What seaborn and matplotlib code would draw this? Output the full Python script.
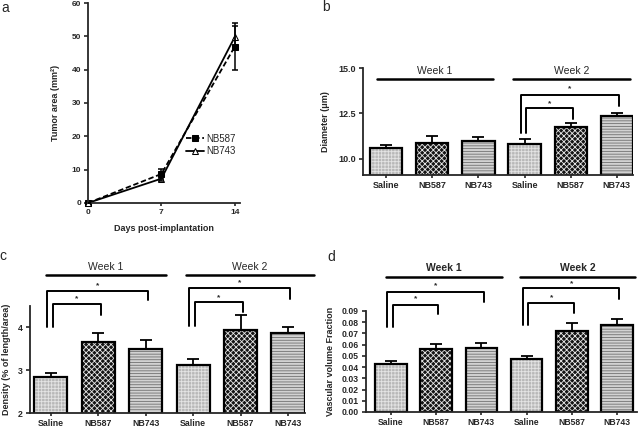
import numpy as np
import pandas as pd
import matplotlib
matplotlib.use("Agg")
import matplotlib.pyplot as plt
import seaborn as sns
from matplotlib.ticker import FormatStrFormatter

# panel a: tumor area vs days
days = [0, 7, 14]
nb587_area = [0.0, 8.7, 46.9]
nb587_sem = [0.0, 1.5, 7.1]
nb743_area = [0.0, 7.3, 49.8]
nb743_sem = [0.0, 0.8, 3.3]

# bar panels: Saline / NB587 / NB743 for week 1, then week 2
treatments = ["Saline", "NB587", "NB743"]
weeks = ["Week 1", "Week 2"]
diam_mean = [10.60, 10.87, 11.00, 10.83, 11.74, 12.35]
diam_sem = [0.18, 0.36, 0.20, 0.27, 0.23, 0.19]
dens_mean = [2.83, 3.66, 3.49, 3.12, 3.95, 3.86]
dens_sem = [0.11, 0.20, 0.21, 0.15, 0.35, 0.16]
vvf_mean = [0.0425, 0.0561, 0.0567, 0.0476, 0.0722, 0.0779]
vvf_sem = [0.0028, 0.0042, 0.0050, 0.0025, 0.0071, 0.0048]

# significance brackets: (from bar, to bar, top, left leg end, right leg end, star y)
diam_sig = [(3, 5, 13.53, 11.4, 12.9, 13.86), (3, 4, 12.8, 11.4, 12.2, 13.05)]
dens_sig = [(0, 2, 4.85, 4.0, 4.64, 4.98), (0, 1, 4.54, 4.0, 4.3, 4.66),
            (3, 5, 4.91, 4.04, 4.66, 5.05), (3, 4, 4.59, 4.04, 4.35, 4.70)]
vvf_sig = [(0, 2, 0.1073, 0.0756, 0.0982, 0.1124), (0, 1, 0.0957, 0.0756, 0.0869, 0.1005),
           (3, 5, 0.1104, 0.0778, 0.1005, 0.1146), (3, 4, 0.0971, 0.0778, 0.0886, 0.1020)]

sns.set_style("ticks")
plt.rcParams["font.family"] = ["Liberation Sans", "DejaVu Sans"]
plt.rcParams["hatch.linewidth"] = 0.6

# face colour, hatch colour, hatch
styles = {"Saline": ("#b8b8b8", "#e4e4e4", "+++++"),
          "NB587": ("#151515", "#e8e8e8", "xxxxxx"),
          "NB743": ("#d2d2d2", "#707070", "------")}


def style_axis(ax, size=6):
    sns.despine(ax=ax)
    for s in ["left", "bottom"]:
        ax.spines[s].set_linewidth(1.3)
    ax.tick_params(direction="out", length=3, width=1.2, labelsize=size, pad=2)
    ax.tick_params(axis="x", length=2.5, pad=1.5)
    for lbl in ax.get_xticklabels() + ax.get_yticklabels():
        lbl.set_fontweight("bold")


def bar_panel(ax, means, sems, sig, week_x, week_y, text_y, week_bold):
    conds = [f"{t} {w}" for w in weeks for t in treatments]
    df = pd.DataFrame({"cond": conds, "val": means, "trt": treatments * 2})
    sns.barplot(data=df, x="cond", y="val", order=conds, errorbar=None,
                width=0.7, ax=ax)
    for p, trt in zip(list(ax.patches), df["trt"]):
        fc, hc, h = styles[trt]
        p.set_facecolor(fc)
        p.set_edgecolor(hc)
        p.set_hatch(h)
        p.set_linewidth(0)
        ax.add_patch(plt.Rectangle(p.get_xy(), p.get_width(), p.get_height(),
                                   fill=False, ec="black", lw=1.6, zorder=2))
    x = np.arange(len(means))
    ax.errorbar(x, means, yerr=[np.zeros(len(sems)), sems], fmt="none",
                ecolor="black", elinewidth=1.3, capsize=4.5, capthick=1.3, zorder=3)
    ax.set_xticks(x)
    ax.set_xticklabels(treatments * 2)
    ax.set_xlabel("")
    # week headers
    for wk, (x0, x1) in zip(weeks, week_x):
        ax.plot([x0, x1], [week_y, week_y], color="black", lw=1.8, clip_on=False)
        ax.text((x0 + x1) / 2, text_y, wk, ha="center", va="center", fontsize=7.5,
                fontweight="bold" if week_bold else "normal")
    for s, t, top, lb, rb, sy in sig:
        xl = s - 0.08 if t - s == 2 else s + 0.04
        xr = t + 0.05
        ax.plot([xl, xl, xr, xr], [lb, top, top, rb], color="black", lw=1.4,
                clip_on=False)
        ax.text((xl + xr) / 2, sy, "*", ha="center", va="center", fontsize=6,
                fontweight="bold")


fig = plt.figure(figsize=(6.4, 4.3), dpi=100)

# ---- panel a
ax_a = fig.add_axes([0.1375, 0.528, 0.2375, 0.465])
sns.lineplot(x=days, y=nb587_area, ax=ax_a, color="black", lw=1.3,
             dashes=(3, 1.5), marker="s", markersize=4.5, markeredgecolor="black",
             label="NB587", clip_on=False)
sns.lineplot(x=days, y=nb743_area, ax=ax_a, color="black", lw=1.3,
             marker="^", markersize=5, markerfacecolor="white",
             markeredgecolor="black", label="NB743", clip_on=False)
ax_a.errorbar(days, nb587_area, yerr=nb587_sem, fmt="none", ecolor="black",
              elinewidth=1.1, capsize=2.5, capthick=1.1, zorder=3)
ax_a.errorbar(days, nb743_area, yerr=nb743_sem, fmt="none", ecolor="black",
              elinewidth=1.1, capsize=2.5, capthick=1.1, zorder=3)
ax_a.set_xlim(0, 14.5)
ax_a.set_ylim(0, 60)
ax_a.set_xticks(days)
ax_a.set_yticks(range(0, 61, 10))
ax_a.set_xlabel("Days post-implantation", fontsize=6.5, fontweight="bold", labelpad=6)
ax_a.set_ylabel("Tumor area (mm²)", fontsize=6.5, fontweight="bold", labelpad=8)
ax_a.legend(loc="center left", bbox_to_anchor=(0.62, 0.29), frameon=False,
            fontsize=7, handlelength=1.8, handletextpad=0.3, labelspacing=0.3,
            borderaxespad=0)
style_axis(ax_a)

# ---- panel b
ax_b = fig.add_axes([0.5672, 0.593, 0.4219, 0.2488])
bar_panel(ax_b, diam_mean, diam_sem, diam_sig,
          [(-0.2, 2.32), (2.75, 5.28)], 14.37, 14.85, False)
ax_b.set_xlim(-0.5, 5.35)
ax_b.set_ylim(9.1, 15.0)
ax_b.set_yticks([10.0, 12.5, 15.0])
ax_b.yaxis.set_major_formatter(FormatStrFormatter("%.1f"))
ax_b.set_ylabel("Diameter (μm)", fontsize=6.5, fontweight="bold", labelpad=6)
style_axis(ax_b, 6.5)

# ---- panel c
ax_c = fig.add_axes([0.0469, 0.0395, 0.4297, 0.2488])
bar_panel(ax_c, dens_mean, dens_sem, dens_sig,
          [(-0.1, 2.43), (2.85, 5.55)], 5.22, 5.42, False)
ax_c.set_xlim(-0.44, 5.36)
ax_c.set_ylim(2, 4.5)
ax_c.set_yticks([2, 3, 4])
ax_c.set_ylabel("Density (% of length/area)", fontsize=6.5, fontweight="bold", labelpad=5)
style_axis(ax_c, 6.3)

# ---- panel d
ax_d = fig.add_axes([0.5719, 0.0419, 0.4234, 0.2349])
bar_panel(ax_d, vvf_mean, vvf_sem, vvf_sig,
          [(-0.1, 2.45), (2.85, 5.4)], 0.1203, 0.128, True)
ax_d.set_xlim(-0.55, 5.44)
ax_d.set_ylim(0, 0.09)
ax_d.set_yticks(np.arange(0, 0.091, 0.01))
ax_d.yaxis.set_major_formatter(FormatStrFormatter("%.2f"))
ax_d.set_ylabel("Vascular volume Fraction", fontsize=6.5, fontweight="bold", labelpad=5)
style_axis(ax_d, 6.2)

for lbl, (x, y) in zip("abcd", [(0.008, 0.981), (0.509, 0.984), (0.005, 0.405), (0.517, 0.402)]):
    fig.text(x, y, lbl, ha="center", va="center", fontsize=10)

fig.savefig("out.png", dpi=100)
